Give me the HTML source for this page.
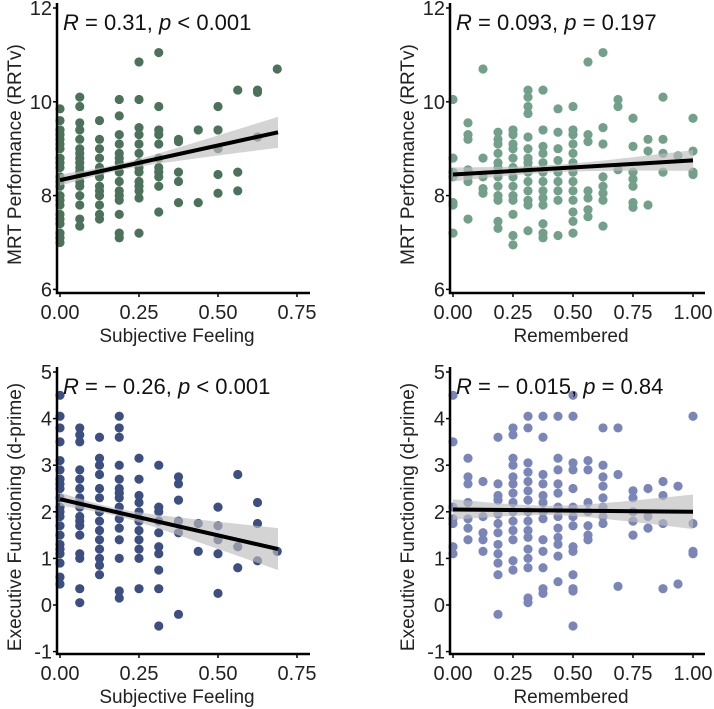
<!DOCTYPE html>
<html><head><meta charset="utf-8"><style>
body{margin:0;background:#fff}
svg{display:block;font-family:"Liberation Sans",Arial,sans-serif}
</style></head><body>
<svg id="c" width="714" height="709"></svg>
<script>
// ---- data: per-column y values, x = k/16 ----
const tlCols=[[7.0,7.2,7.4,7.6,7.8,8.0,8.2,8.4,8.6,8.8,9.0,9.2,9.4,9.6,9.85,7.1,7.5,7.9,8.3,8.7,9.1,9.3],[7.35,7.5,7.8,8.0,8.3,8.5,8.6,8.8,9.0,9.2,9.4,9.55,9.9,10.1,8.2,8.7,8.9],[7.5,7.6,7.8,8.0,8.2,8.4,8.6,8.8,9.0,9.2,9.6,8.1,8.5],[7.1,7.2,7.6,7.9,8.1,8.3,8.5,8.7,8.9,9.1,9.3,9.7,10.05,8.0,8.8],[7.2,7.95,8.1,8.3,8.5,8.7,8.9,9.1,9.3,9.45,10.05,10.85,8.2,8.6],[7.65,8.2,8.4,8.6,8.8,9.1,9.3,9.4,9.9,11.05,8.5],[7.85,8.3,8.5,9.15,9.2],[7.85,9.4],[8.05,8.45,9.0,9.4,9.9],[8.1,8.5,10.25],[9.25,10.2,10.25],[10.7]];
const trCols=[[7.2,7.8,7.85,8.4,8.5,8.8,10.05],[7.5,8.3,8.4,8.55,9.2,9.3,9.55],[8.05,8.15,8.4,8.8,10.7],[7.3,7.45,7.9,8.0,8.2,8.4,8.6,8.7,8.9,9.1,9.2,9.35],[6.95,7.15,7.6,7.9,8.0,8.2,8.4,8.6,8.8,9.0,9.1,9.3,9.4],[7.25,7.8,7.9,8.1,8.3,8.5,8.6,8.7,8.8,9.0,9.25,9.75,9.9,10.1,10.25],[7.1,7.2,7.4,7.8,7.95,8.1,8.3,8.5,8.7,8.9,9.05,9.4,10.25],[7.15,7.9,8.1,8.3,8.5,8.75,9.0,9.35,9.85],[7.2,7.45,7.65,7.9,8.1,8.3,8.5,8.7,8.9,9.1,9.3,9.4,9.9],[7.55,7.7,7.95,8.1,9.15,9.3,10.85],[7.35,7.9,8.05,8.2,8.4,9.1,9.45,11.05],[8.55,9.9,10.05],[7.75,7.85,8.2,8.35,8.5,9.05,9.65],[7.8,8.95,9.2],[8.5,8.9,9.2,10.1],[8.85],[8.45,8.5,8.95,9.65]];
const blCols=[[0.45,0.6,0.9,1.1,1.3,1.5,1.7,1.9,2.1,2.3,2.5,2.7,2.9,3.1,3.5,3.8,4.05,4.5,1.2,2.0,2.6],[0.05,0.35,1.0,1.1,1.5,1.7,1.9,2.1,2.3,2.5,2.7,2.9,3.5,3.65,3.8,1.8,2.2],[0.65,0.85,1.0,1.2,1.4,1.6,1.8,2.0,2.3,2.5,2.8,3.0,3.15,3.6],[0.15,0.3,1.0,1.4,1.65,1.85,2.1,2.3,2.5,2.7,3.0,3.6,3.8,4.05,2.4],[0.35,1.0,1.2,1.4,1.6,1.8,2.0,2.2,2.35,2.7,3.15],[-0.45,0.35,0.75,1.1,1.25,1.55,1.8,2.0,2.1,3.0],[-0.2,1.55,1.8,2.25,2.6,2.75],[1.15,1.75],[0.25,1.1,1.4,1.7,2.1],[0.8,1.25,2.8],[0.95,1.75,2.2],[1.15]];
const brCols=[[1.1,1.25,1.75,1.85,2.1,3.5,4.5],[1.4,1.65,1.85,2.2,2.6,2.75,3.15],[1.15,1.4,1.55,1.9,2.65],[-0.2,0.65,0.9,1.1,1.3,1.55,1.75,1.95,2.25,2.35,2.6,3.6],[0.75,0.95,1.4,1.6,1.8,2.0,2.2,2.4,2.6,2.75,3.0,3.15,3.65,3.8],[0.05,0.15,0.8,1.0,1.2,1.45,1.6,1.8,2.0,2.25,2.45,2.65,2.85,3.05,3.8,4.05],[0.25,0.35,0.8,1.15,1.4,1.85,2.0,2.2,2.35,2.6,2.8,3.6,4.05],[0.5,1.05,1.3,1.45,1.65,1.9,2.1,2.4,2.6,2.9,3.15,4.05],[-0.45,0.3,0.35,0.65,1.15,1.25,1.7,1.9,2.1,2.5,2.9,3.05,4.05,4.5],[1.4,1.5,1.7,2.0,2.2,2.9,3.1],[1.75,1.9,2.1,2.3,2.55,2.75,3.0,3.8],[0.4,2.8,3.8],[1.5,1.8,2.0,2.3,2.45],[1.65,1.9,2.5],[0.35,1.75,2.35,2.65],[0.45,2.55],[1.1,1.15,1.75,4.05]];
const tlFit=[8.33,9.35]; const tlRange=[0,0.69]; const tlBand=[0.12,0.07,0.33,0.18];
const trFit=[8.45,8.75]; const trRange=[0,1]; const trBand=[0.15,0.08,0.22,0.4];
const blFit=[2.27,1.2]; const blRange=[0,0.69]; const blBand=[0.14,0.08,0.45,0.17];
const brFit=[2.05,2.0]; const brRange=[0,1]; const brBand=[0.22,0.1,0.37,0.4];
const xTicksL=["0.00","0.25","0.50","0.75"]; const xTicksR=["0.00","0.25","0.50","0.75","1.00"];
const yTicksTop=[6,8,10,12]; const yTicksBot=[-1,0,1,2,3,4,5];

const svg=document.getElementById('c');const NS='http://www.w3.org/2000/svg';
function mk(t,a,p){const e=document.createElementNS(NS,t);for(const k in a)e.setAttribute(k,a[k]);(p||svg).appendChild(e);return e;}
function panel(o){
  const g=mk('g',{});
  
  
  const X=v=>o.x0+(v-o.xmin)*o.xs, Y=v=>o.yTop+(o.ymax-v)*o.ys;
  o.cols.forEach((col,k)=>col.forEach(v=>{
    const c=mk('circle',{cx:X(k/16),cy:Y(v),r:4.6,fill:o.color},g);
    
    
  }));
  const [s0,smin,s1,m]=o.band, xa=o.range[0], xb=o.range[1];
  const se=x=>{const d=x<m?(x-m)/(xa-m):(x-m)/(xb-m);const e=x<m?s0:s1;return Math.sqrt(smin*smin+(e*e-smin*smin)*d*d);};
  const fy=x=>o.fit[0]+(o.fit[1]-o.fit[0])*(x-xa)/(xb-xa);
  let up=[],dn=[];for(let i=0;i<=40;i++){const x=xa+(xb-xa)*i/40;up.push(X(x)+','+Y(fy(x)+se(x)));dn.unshift(X(x)+','+Y(fy(x)-se(x)));}
  const b=mk('polygon',{points:up.concat(dn).join(' '),fill:'#bdbdbd','fill-opacity':0.65},g);
  
  
  const l=mk('line',{x1:X(xa),y1:Y(o.fit[0]),x2:X(xb),y2:Y(o.fit[1]),stroke:'#000','stroke-width':4},g);
  
  
  const ax=mk('path',{d:`M${o.x0-3},${o.yTop-5}V${o.yBot}H${o.xEnd}`,stroke:'#000','stroke-width':2.5,fill:'none'},g);
  
  
  o.yt.forEach(v=>{mk('line',{x1:o.x0-7,x2:o.x0-3,y1:Y(v),y2:Y(v),stroke:'#000','stroke-width':1.5},g);
    const t=mk('text',{x:o.x0-8,y:Y(v)+7,'text-anchor':'end','font-size':20,fill:'#222'},g);t.textContent=v;
    
    });
  o.xt.forEach(s=>{const v=parseFloat(s);mk('line',{x1:X(v),x2:X(v),y1:o.yBot,y2:o.yBot+4,stroke:'#000','stroke-width':1.5},g);
    const t=mk('text',{x:X(v),y:o.yBot+26,'text-anchor':'middle','font-size':20,fill:'#222'},g);t.textContent=s;
    
    });
  const xt=mk('text',{x:(o.x0+o.xEnd)/2-8,y:o.yBot+49,'text-anchor':'middle','font-size':19,fill:'#222'},g);xt.textContent=o.xl;
  
  
  const cy=(o.yTop+o.yBot)/2+4;
  const yx=o.x0-39;
  const yt=mk('text',{x:yx,y:cy,'text-anchor':'middle','font-size':19,fill:'#222',transform:`rotate(-90 ${yx} ${cy})`},g);yt.textContent=o.yl;
  
  
  const an=mk('text',{x:o.x0+3,y:o.yTop+22,'font-size':22,fill:'#111'},g);an.innerHTML=o.ann;
  
  
}
const I=s=>`<tspan font-style="italic">${s}</tspan>`;
panel({name:'panel-mrt-subjective',cols:tlCols,fit:tlFit,range:tlRange,band:tlBand,color:'#4d725b',x0:60,xs:316,xmin:0,xEnd:310,yTop:8,ymax:12,ys:46.9,yBot:293,yt:yTicksTop,xt:xTicksL,xl:'Subjective Feeling',yl:'MRT Performance (RRTv)',ann:I('R')+' = 0.31, '+I('p')+' &lt; 0.001'});
panel({name:'panel-mrt-remembered',cols:trCols,fit:trFit,range:trRange,band:trBand,color:'#72a08a',x0:453,xs:240,xmin:0,xEnd:705,yTop:8,ymax:12,ys:46.9,yBot:293,yt:yTicksTop,xt:xTicksR,xl:'Remembered',yl:'MRT Performance (RRTv)',ann:I('R')+' = 0.093, '+I('p')+' = 0.197'});
panel({name:'panel-ef-subjective',cols:blCols,fit:blFit,range:blRange,band:blBand,color:'#3c4f80',x0:60,xs:316,xmin:0,xEnd:310,yTop:372,ymax:5,ys:46.6,yBot:654,yt:yTicksBot,xt:xTicksL,xl:'Subjective Feeling',yl:'Executive Functioning (d-prime)',ann:I('R')+' = − 0.26, '+I('p')+' &lt; 0.001'});
panel({name:'panel-ef-remembered',cols:brCols,fit:brFit,range:brRange,band:brBand,color:'#7a86b8',x0:453,xs:240,xmin:0,xEnd:705,yTop:372,ymax:5,ys:46.6,yBot:654,yt:yTicksBot,xt:xTicksR,xl:'Remembered',yl:'Executive Functioning (d-prime)',ann:I('R')+' = − 0.015, '+I('p')+' = 0.84'});
</script>
</body></html>
